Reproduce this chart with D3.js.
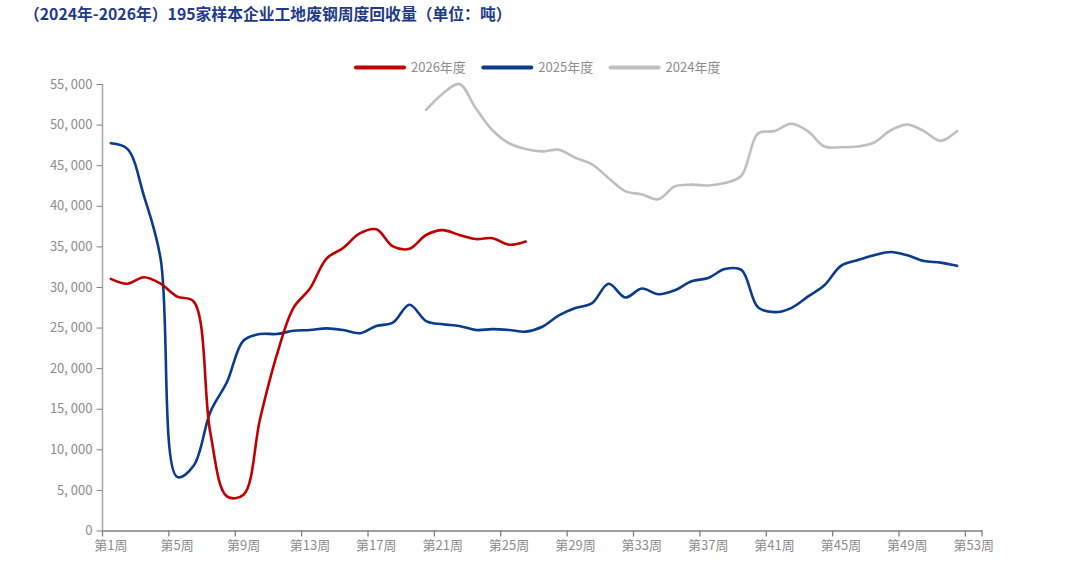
<!DOCTYPE html>
<html>
<head>
<meta charset="utf-8">
<script src="https://cdn.jsdelivr.net/npm/d3@7"></script>
<style>
  body { margin: 0; background: #fff; }
  svg { display: block; }
  text { font-family: "Noto Sans CJK SC", "Noto Sans", sans-serif; }
</style>
</head>
<body>
<svg id="chart" width="1080" height="577"></svg>
<script>
// weeks shown on the category axis
const weeks = d3.range(1, 54);
const labelWeeks = [1, 5, 9, 13, 17, 21, 25, 29, 33, 37, 41, 45, 49, 53];
const yTicks = [0, 5000, 10000, 15000, 20000, 25000, 30000, 35000, 40000, 45000, 50000, 55000];

// 2026: weeks 1-26
const weeks2026 = d3.range(1, 27);
const vals2026 = [31000, 30400, 31200, 30400, 28800, 28200, 12000, 4200, 4400, 13800,
  21600, 27400, 29800, 33500, 34800, 36600, 37100, 35000, 34700, 36400,
  37000, 36400, 35900, 36000, 35200, 35600];

// 2025: weeks 1-52
const weeks2025 = d3.range(1, 53);
const vals2025 = [47700, 47000, 41200, 33500, 6600, 8000, 14600, 18300, 23400, 24200,
  24200, 24600, 24700, 24900, 24700, 24300, 25200, 25600, 27800, 25800,
  25400, 25200, 24700, 24800, 24700, 24500, 25100, 26500, 27400, 28000,
  30400, 28700, 29800, 29100, 29600, 30700, 31100, 32200, 32100, 27500,
  26900, 27400, 28800, 30200, 32600, 33300, 33900, 34300, 33900, 33200,
  33000, 32600];

// 2024: weeks 20-52
const weeks2024 = d3.range(20, 53);
const vals2024 = [51800, 53800, 55000, 52000, 49300, 47700, 47000, 46700, 46900, 45900,
  45100, 43400, 41800, 41400, 40800, 42400, 42600, 42500, 42800, 43700,
  48900, 49200, 50100, 49200, 47300, 47200, 47300, 47800, 49300, 50000,
  49200, 48000, 49200];

const seriesNames = ["2026年度", "2025年度", "2024年度"];
const seriesColors = ["#c00000", "#0b3b8c", "#bfbfbf"];

const svg = d3.select("#chart");
const plotLeft = 102.5, plotRight = 982, plotTop = 84, plotBottom = 530.5;

const x = d3.scaleBand().domain(weeks).range([plotLeft, plotRight]);
const y = d3.scaleLinear().domain([0, 55000]).range([plotBottom, plotTop]);

// title
svg.append("text")
  .attr("x", 24).attr("y", 20)
  .attr("font-size", 15.8).attr("font-weight", "bold")
  .attr("fill", "#1f3b87")
  .text("（2024年-2026年）195家样本企业工地废钢周度回收量（单位：吨）");

// y axis
const yAxis = svg.append("g")
  .attr("transform", `translate(${plotLeft},0)`)
  .call(d3.axisLeft(y).tickValues(yTicks).tickSize(6).tickPadding(4)
    .tickFormat(d => d3.format(",")(d).replace(",", ", ")));
yAxis.select(".domain").attr("stroke", "#a6a6a6").attr("stroke-width", 1.5)
  .attr("d", `M0,${plotTop}V${plotBottom}`);
yAxis.selectAll(".tick line").attr("stroke", "#808080");
yAxis.selectAll(".tick text").attr("fill", "#8c8c8c").attr("font-size", 13)
  .style("white-space", "pre");

// x axis: labels at category centres, ticks at category boundaries
const xAxis = svg.append("g")
  .attr("transform", `translate(0,${plotBottom})`)
  .call(d3.axisBottom(x).tickValues(labelWeeks).tickSize(0).tickPadding(10)
    .tickFormat(d => "第" + d + "周"));
xAxis.select(".domain").attr("stroke", "#7f7f7f").attr("stroke-width", 1.3);
xAxis.selectAll(".tick text").attr("fill", "#8c8c8c").attr("font-size", 13);

const boundaries = labelWeeks.map(w => x(w)).concat([x(53) + x.bandwidth()]);
xAxis.selectAll(".bound")
  .data(boundaries)
  .enter()
  .append("line")
  .attr("x1", d => d).attr("x2", d => d)
  .attr("y1", 0).attr("y2", 6)
  .attr("stroke", "#7f7f7f").attr("stroke-width", 1.3);

// lines
const cx = w => x(w) + x.bandwidth() / 2;
const line = d3.line()
  .x(d => cx(d[0]))
  .y(d => y(d[1]))
  .curve(d3.curveCatmullRom.alpha(0.5));

const data = [
  d3.zip(weeks2024, vals2024),
  d3.zip(weeks2025, vals2025),
  d3.zip(weeks2026, vals2026)
];
const colorsDrawn = [seriesColors[2], seriesColors[1], seriesColors[0]];

svg.selectAll(".series")
  .data(data)
  .enter()
  .append("path")
  .attr("class", "series")
  .attr("d", line)
  .attr("fill", "none")
  .attr("stroke", (d, i) => colorsDrawn[i])
  .attr("stroke-width", 2.6)
  .attr("stroke-linejoin", "round")
  .attr("stroke-linecap", "round");

// legend
const legend = svg.append("g").attr("transform", "translate(356,67.5)");
const item = legend.selectAll("g")
  .data(seriesNames)
  .enter()
  .append("g")
  .attr("transform", (d, i) => `translate(${i * 127.3},0)`);
item.append("line")
  .attr("x1", 0).attr("x2", 48)
  .attr("stroke", (d, i) => seriesColors[i])
  .attr("stroke-width", 4)
  .attr("stroke-linecap", "round");
item.append("text")
  .attr("x", 55).attr("dy", "0.35em")
  .attr("font-size", 13).attr("fill", "#8c8c8c")
  .text(d => d);
</script>
</body>
</html>
